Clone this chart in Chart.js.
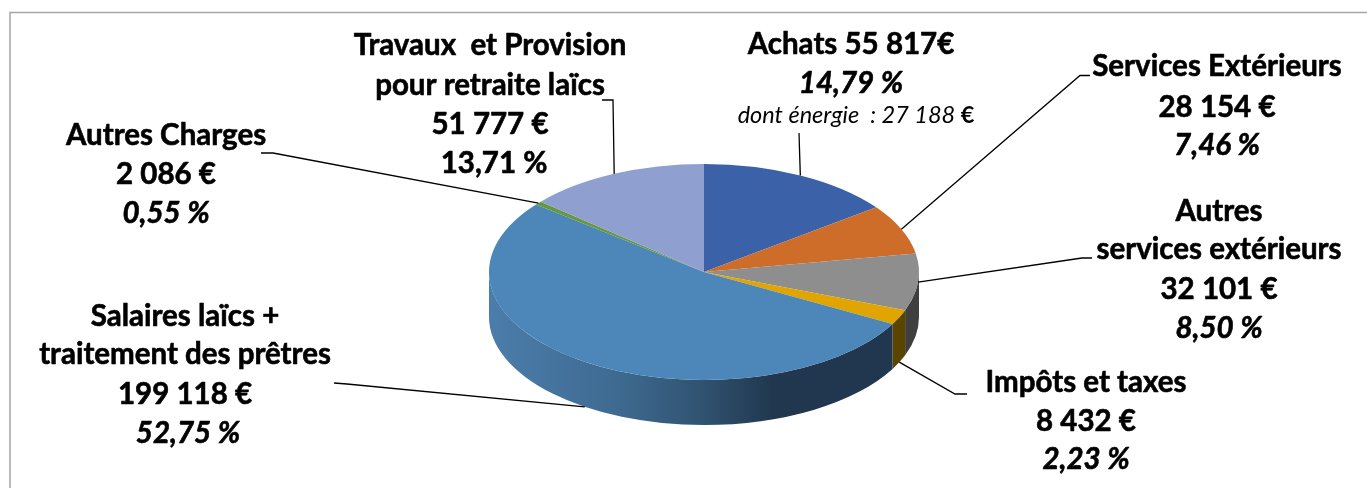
<!DOCTYPE html>
<html>
<head>
<meta charset="utf-8">
<title>Charges</title>
<script src="https://cdn.jsdelivr.net/npm/chart.js@4/dist/chart.umd.min.js"></script>
<style>
  html, body { margin: 0; padding: 0; background: #fff; }
  canvas { display: block; }
</style>
</head>
<body>
<canvas id="pie" width="1367" height="488"></canvas>
<script>
// data, clockwise from 12 o'clock
const categories = ['Achats', 'Services Extérieurs', 'Autres services extérieurs', 'Impôts et taxes',
    'Salaires laïcs + traitement des prêtres', 'Autres Charges', 'Travaux et Provision pour retraite laïcs'];
const values = [55817, 28154, 32101, 8432, 199118, 2086, 51777];
const sliceColors = ['#3b62a9', '#ce6c29', '#8e8e8e', '#e0a500', '#4d86b8', '#66993f', '#8e9fd0'];
const wallColors = ['#2a4678', '#8a4a1c', '#3f3f3f', '#5a4500', null, '#44662a', '#5f6a8b'];

const labelLines = [
    ['Achats 55 817€', '14,79 %'],
    ['Services Extérieurs', '28 154 €', '7,46 %'],
    ['Autres', 'services extérieurs', '32 101 €', '8,50 %'],
    ['Impôts et taxes', '8 432 €', '2,23 %'],
    ['Salaires laïcs +', 'traitement des prêtres', '199 118 €', '52,75 %'],
    ['Autres Charges', '2 086 €', '0,55 %'],
    ['Travaux  et Provision', 'pour retraite laïcs', '51 777 €', '13,71 %']
];
const energyNote = 'dont énergie  : 27 188 ';
const energyUnit = '€';

// label placement: centre x of each line, baselines, which line is italic
const labelX = [[851, 851], [1217, 1217, 1217], [1219, 1219, 1219, 1219], [1086, 1086, 1086],
    [185, 185, 185, 188], [166, 166, 166], [490, 490, 490, 494]];
const labelY = [[54, 93], [76, 117, 155], [221, 259, 299, 338], [392, 431, 469],
    [326, 364, 404, 443], [145, 184, 223], [55, 95, 134, 173]];
const italicLine = [1, 2, 3, 2, 3, 2, -1];

// leader lines: free end and elbow, the last point comes from the slice itself
const leaderStart = [[799, 133], [1090, 75.5], [1092, 258], [967, 394], [334, 383], [261, 153], [602, 100]];
const leaderElbow = [null, [1080, 75.5], [1082, 258], [955, 394], [347, 384], [273, 153], [613, 100]];
const onWall = [false, false, false, true, true, false, false];

const CX = 704, CY = 272, RX = 215, RY = 108, DEPTH = 45;
const FONT = 'Lato, Carlito, sans-serif';

function drawWalls(ctx, arcs) {
    arcs.forEach((arc, i) => {
        const a0 = Math.max(arc.startAngle, 0);
        const a1 = Math.min(arc.endAngle, Math.PI);
        if (a1 <= a0) return;
        ctx.beginPath();
        ctx.ellipse(CX, CY, RX, RY, 0, a0, a1);
        ctx.ellipse(CX, CY + DEPTH, RX, RY, 0, a1, a0, true);
        ctx.closePath();
        if (wallColors[i]) {
            ctx.fillStyle = wallColors[i];
        } else {
            const grad = ctx.createLinearGradient(CX - RX, 0, CX + RX, 0);
            grad.addColorStop(0, '#4b7dab');
            grad.addColorStop(0.3, '#3e6a91');
            grad.addColorStop(0.5, '#30526f');
            grad.addColorStop(0.66, '#21374f');
            grad.addColorStop(1, '#21374f');
            ctx.fillStyle = grad;
        }
        ctx.fill();
    });
}

function drawLeaders(ctx, arcs) {
    ctx.strokeStyle = '#000';
    ctx.lineWidth = 1.3;
    arcs.forEach((arc, i) => {
        const mid = (arc.startAngle + arc.endAngle) / 2;
        const x = CX + RX * Math.cos(mid);
        const y = CY + RY * Math.sin(mid) + (onWall[i] ? DEPTH : 0);
        ctx.beginPath();
        ctx.moveTo(leaderStart[i][0], leaderStart[i][1]);
        if (leaderElbow[i]) ctx.lineTo(leaderElbow[i][0], leaderElbow[i][1]);
        ctx.lineTo(x, y);
        ctx.stroke();
    });
}

function drawLabels(ctx) {
    ctx.fillStyle = '#000';
    ctx.strokeStyle = '#000';
    ctx.lineWidth = 0.6;
    ctx.lineJoin = 'round';
    ctx.textBaseline = 'alphabetic';
    ctx.textAlign = 'center';
    labelLines.forEach((lines, i) => {
        lines.forEach((text, j) => {
            ctx.font = (j === italicLine[i] ? 'italic ' : '') + 'bold 29.5px ' + FONT;
            ctx.fillText(text, labelX[i][j], labelY[i][j]);
            // reference text is heavier than Lato bold
            ctx.strokeText(text, labelX[i][j], labelY[i][j]);
        });
    });
    // small note under Achats, the unit is bold
    ctx.textAlign = 'left';
    ctx.font = 'italic 23.5px ' + FONT;
    const w1 = ctx.measureText(energyNote).width;
    ctx.font = 'bold 23.5px ' + FONT;
    const w2 = ctx.measureText(energyUnit).width;
    const left = 856 - (w1 + w2) / 2;
    ctx.font = 'italic 23.5px ' + FONT;
    ctx.fillText(energyNote, left, 123);
    ctx.font = 'bold 23.5px ' + FONT;
    ctx.fillText(energyUnit, left + w1, 123);
}

const pie3d = {
    id: 'pie3d',
    beforeDraw(chart) {
        const ctx = chart.ctx;
        ctx.save();
        ctx.strokeStyle = '#a6a6a6';
        ctx.lineWidth = 1.5;
        ctx.beginPath();
        ctx.moveTo(10, 488);
        ctx.lineTo(10, 12.5);
        ctx.lineTo(1367, 12.5);
        ctx.stroke();
        ctx.restore();
    },
    beforeDatasetsDraw(chart) {
        const ctx = chart.ctx;
        drawWalls(ctx, chart.getDatasetMeta(0).data);
        // squash the round pie into the tilted ellipse
        ctx.save();
        ctx.translate(CX, CY);
        ctx.scale(1, RY / RX);
        ctx.translate(-CX, -CY);
    },
    afterDatasetsDraw(chart) {
        chart.ctx.restore();
    },
    afterDraw(chart) {
        const ctx = chart.ctx;
        ctx.save();
        drawLeaders(ctx, chart.getDatasetMeta(0).data);
        drawLabels(ctx);
        ctx.restore();
    }
};

new Chart(document.getElementById('pie').getContext('2d'), {
    type: 'pie',
    data: {
        labels: categories,
        datasets: [{
            data: values,
            backgroundColor: sliceColors,
            borderWidth: 0,
            radius: RX
        }]
    },
    options: {
        responsive: false,
        animation: false,
        layout: { padding: { left: 41, top: 56 } },
        plugins: { legend: { display: false }, tooltip: { enabled: false } }
    },
    plugins: [pie3d]
});
</script>
</body>
</html>
